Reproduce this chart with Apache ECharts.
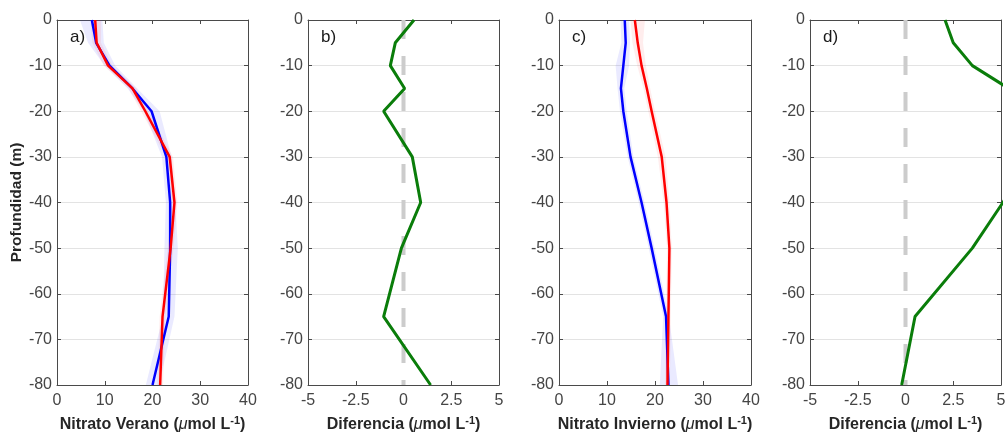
<!DOCTYPE html>
<html>
<head>
<meta charset="utf-8">
<script src="https://cdn.jsdelivr.net/npm/echarts@6/dist/echarts.min.js"></script>
<style>
html,body{margin:0;padding:0;background:#fff;}
#chart{width:1005px;height:433px;}
</style>
</head>
<body>
<div id="chart"></div>
<script>
// Depth levels (m)
const depths = [0, -5, -10, -15, -20, -30, -40, -50, -65, -80];
// Panel a: Nitrato Verano
const veranoBlue = [7.3, 8.2, 11.0, 15.8, 19.8, 22.9, 23.7, 23.7, 23.4, 20.0];
const veranoRed  = [8.0, 8.3, 10.7, 15.8, 18.5, 23.6, 24.6, 23.8, 22.1, 21.6];
const veranoBlueLo = [4.8, 6.5, 10.0, 14.8, 18.2, 22.0, 22.8, 22.5, 22.2, 18.6];
const veranoBlueHi = [9.5, 9.8, 12.2, 16.8, 21.5, 24.0, 24.8, 25.3, 24.6, 21.4];
const veranoRedLo  = [7.0, 7.4, 9.8, 15.0, 17.6, 22.9, 24.0, 23.2, 21.5, 21.0];
const veranoRedHi  = [9.2, 9.2, 11.6, 16.6, 19.2, 24.3, 25.2, 24.4, 22.7, 22.2];
// Panel b: Diferencia (verano)
const difVerano = [0.55, -0.43, -0.69, 0.06, -1.04, 0.46, 0.9, -0.11, -1.04, 1.42];
// Panel c: Nitrato Invierno
const inviernoBlue = [13.7, 13.9, 13.4, 12.9, 13.4, 14.9, 17.2, 19.3, 22.3, 22.8];
const inviernoRed  = [15.8, 16.4, 17.2, 18.3, 19.3, 21.4, 22.4, 23.0, 22.8, 22.6];
const inviernoBlueLo = [12.8, 13.0, 11.8, 12.2, 12.7, 14.3, 16.6, 18.7, 21.7, 21.0];
const inviernoBlueHi = [14.6, 14.8, 14.6, 13.6, 14.1, 15.5, 17.8, 19.9, 22.9, 24.8];
const inviernoRedLo  = [14.9, 15.3, 16.3, 17.6, 18.6, 20.6, 21.8, 22.5, 22.3, 22.1];
const inviernoRedHi  = [17.9, 17.5, 18.1, 19.0, 20.0, 22.2, 23.0, 23.5, 23.3, 23.1];
// Panel d: Diferencia (invierno)
const difInvierno = [2.07, 2.5, 3.5, 5.4, 5.9, 6.5, 5.1, 3.5, 0.5, -0.2];
// Zero reference line
const zeroLine = [[0, 0], [0, -80]];

const panelLabels = ['a)', 'b)', 'c)', 'd)'];
const xNames = ['Nitrato Verano', 'Diferencia', 'Nitrato Invierno', 'Diferencia'];

const grids = [
  {left: 57, top: 20, width: 191, height: 365, outerBoundsMode: 'none', containLabel: false},
  {left: 308, top: 20, width: 191, height: 365, outerBoundsMode: 'none', containLabel: false},
  {left: 559, top: 20, width: 192, height: 365, outerBoundsMode: 'none', containLabel: false},
  {left: 810, top: 20, width: 191, height: 365, outerBoundsMode: 'none', containLabel: false}
];

const axisCol = '#4a4a4a';
const labelCol = '#454545';
const fontFam = '"Liberation Sans", Arial, Helvetica, sans-serif';

const xAxes = [], yAxes = [];
grids.forEach((g, i) => {
  const isDiff = (i === 1 || i === 3);
  const xmin = isDiff ? -5 : 0, xmax = isDiff ? 5 : 40, xint = isDiff ? 2.5 : 10;
  xAxes.push({
    gridIndex: i, type: 'value', min: xmin, max: xmax, interval: xint, position: 'bottom',
    axisLine: {show: true, onZero: false, lineStyle: {color: axisCol, width: 1}},
    axisTick: {show: true, inside: true, length: 4, lineStyle: {color: axisCol}},
    axisLabel: {color: labelCol, fontSize: 16, fontFamily: fontFam, margin: 8},
    splitLine: {show: false},
    name: '{b|' + xNames[i] + ' (}{mu|μ}{b|mol L}{sup|-1}{b|)}',
    nameLocation: 'middle', nameGap: 30,
    nameTextStyle: {
      rich: {
        b: {fontSize: 16, fontWeight: 'bold', color: '#262626', fontFamily: fontFam},
        mu: {fontSize: 16, fontStyle: 'italic', color: '#262626', fontFamily: fontFam},
        sup: {fontSize: 11, fontWeight: 'bold', color: '#262626', fontFamily: fontFam, padding: [0, 0, 9, 0]}
      }
    }
  });
  xAxes.push({
    gridIndex: i, type: 'value', min: xmin, max: xmax, interval: xint, position: 'top',
    axisLine: {show: true, onZero: false, lineStyle: {color: axisCol, width: 1}},
    axisTick: {show: true, inside: true, length: 4, lineStyle: {color: axisCol}},
    axisLabel: {show: false}, splitLine: {show: false}
  });
  yAxes.push({
    gridIndex: i, type: 'value', min: -80, max: 0, interval: 10, position: 'left',
    axisLine: {show: true, onZero: false, lineStyle: {color: axisCol, width: 1}},
    axisTick: {show: true, inside: true, length: 4, lineStyle: {color: axisCol}},
    axisLabel: {color: labelCol, fontSize: 16, fontFamily: fontFam, margin: 5},
    splitLine: {show: true, lineStyle: {color: '#e3e3e3', width: 1}},
    name: i === 0 ? 'Profundidad (m)' : '',
    nameLocation: 'middle', nameGap: 27, nameRotate: 90,
    nameTextStyle: {fontSize: 15.5, fontWeight: 'bold', color: '#262626', fontFamily: fontFam}
  });
  yAxes.push({
    gridIndex: i, type: 'value', min: -80, max: 0, interval: 10, position: 'right',
    axisLine: {show: true, onZero: false, lineStyle: {color: axisCol, width: 1}},
    axisTick: {show: true, inside: true, length: 4, lineStyle: {color: axisCol}},
    axisLabel: {show: false}, splitLine: {show: false}
  });
});

function pairs(xs) { return xs.map((x, k) => [x, depths[k]]); }

function bandSeries(gi, lo, hi, color) {
  return {
    type: 'custom', xAxisIndex: gi * 2, yAxisIndex: gi * 2, silent: true, z: 1,
    data: [[lo[0], depths[0]]],
    renderItem: function (params, api) {
      const pts = [];
      for (let k = 0; k < depths.length; k++) pts.push(api.coord([lo[k], depths[k]]));
      for (let k = depths.length - 1; k >= 0; k--) pts.push(api.coord([hi[k], depths[k]]));
      return {type: 'polygon', shape: {points: pts}, style: {fill: color}};
    }
  };
}

function lineSeries(gi, xs, color, width) {
  return {
    type: 'line', xAxisIndex: gi * 2, yAxisIndex: gi * 2, data: pairs(xs),
    showSymbol: false, symbol: 'none', clip: true, z: 3,
    lineStyle: {color: color, width: width}, emphasis: {disabled: true}, animation: false
  };
}

function zeroSeries(gi) {
  return {
    type: 'line', xAxisIndex: gi * 2, yAxisIndex: gi * 2, data: zeroLine,
    showSymbol: false, symbol: 'none', z: 2,
    lineStyle: {color: '#cccccc', width: 4, type: [19, 17]}, animation: false
  };
}

const series = [
  bandSeries(0, veranoBlueLo, veranoBlueHi, 'rgba(60,60,255,0.11)'),
  bandSeries(0, veranoRedLo, veranoRedHi, 'rgba(255,60,60,0.09)'),
  lineSeries(0, veranoBlue, '#0000ff', 2.5),
  lineSeries(0, veranoRed, '#ff0000', 2.5),
  zeroSeries(1),
  lineSeries(1, difVerano, '#0a7d0a', 3),
  bandSeries(2, inviernoBlueLo, inviernoBlueHi, 'rgba(60,60,255,0.11)'),
  bandSeries(2, inviernoRedLo, inviernoRedHi, 'rgba(255,60,60,0.09)'),
  lineSeries(2, inviernoBlue, '#0000ff', 2.5),
  lineSeries(2, inviernoRed, '#ff0000', 2.5),
  zeroSeries(3),
  lineSeries(3, difInvierno, '#0a7d0a', 3)
];

const graphics = grids.map((g, i) => ({
  type: 'text', left: g.left + 13, top: 29,
  style: {text: panelLabels[i], fontSize: 17, fill: '#1a1a1a', fontFamily: fontFam}
}));

const chart = echarts.init(document.getElementById('chart'), null, {renderer: 'canvas'});
chart.setOption({
  animation: false,
  backgroundColor: '#ffffff',
  grid: grids,
  xAxis: xAxes,
  yAxis: yAxes,
  series: series,
  graphic: graphics
});
</script>
</body>
</html>
